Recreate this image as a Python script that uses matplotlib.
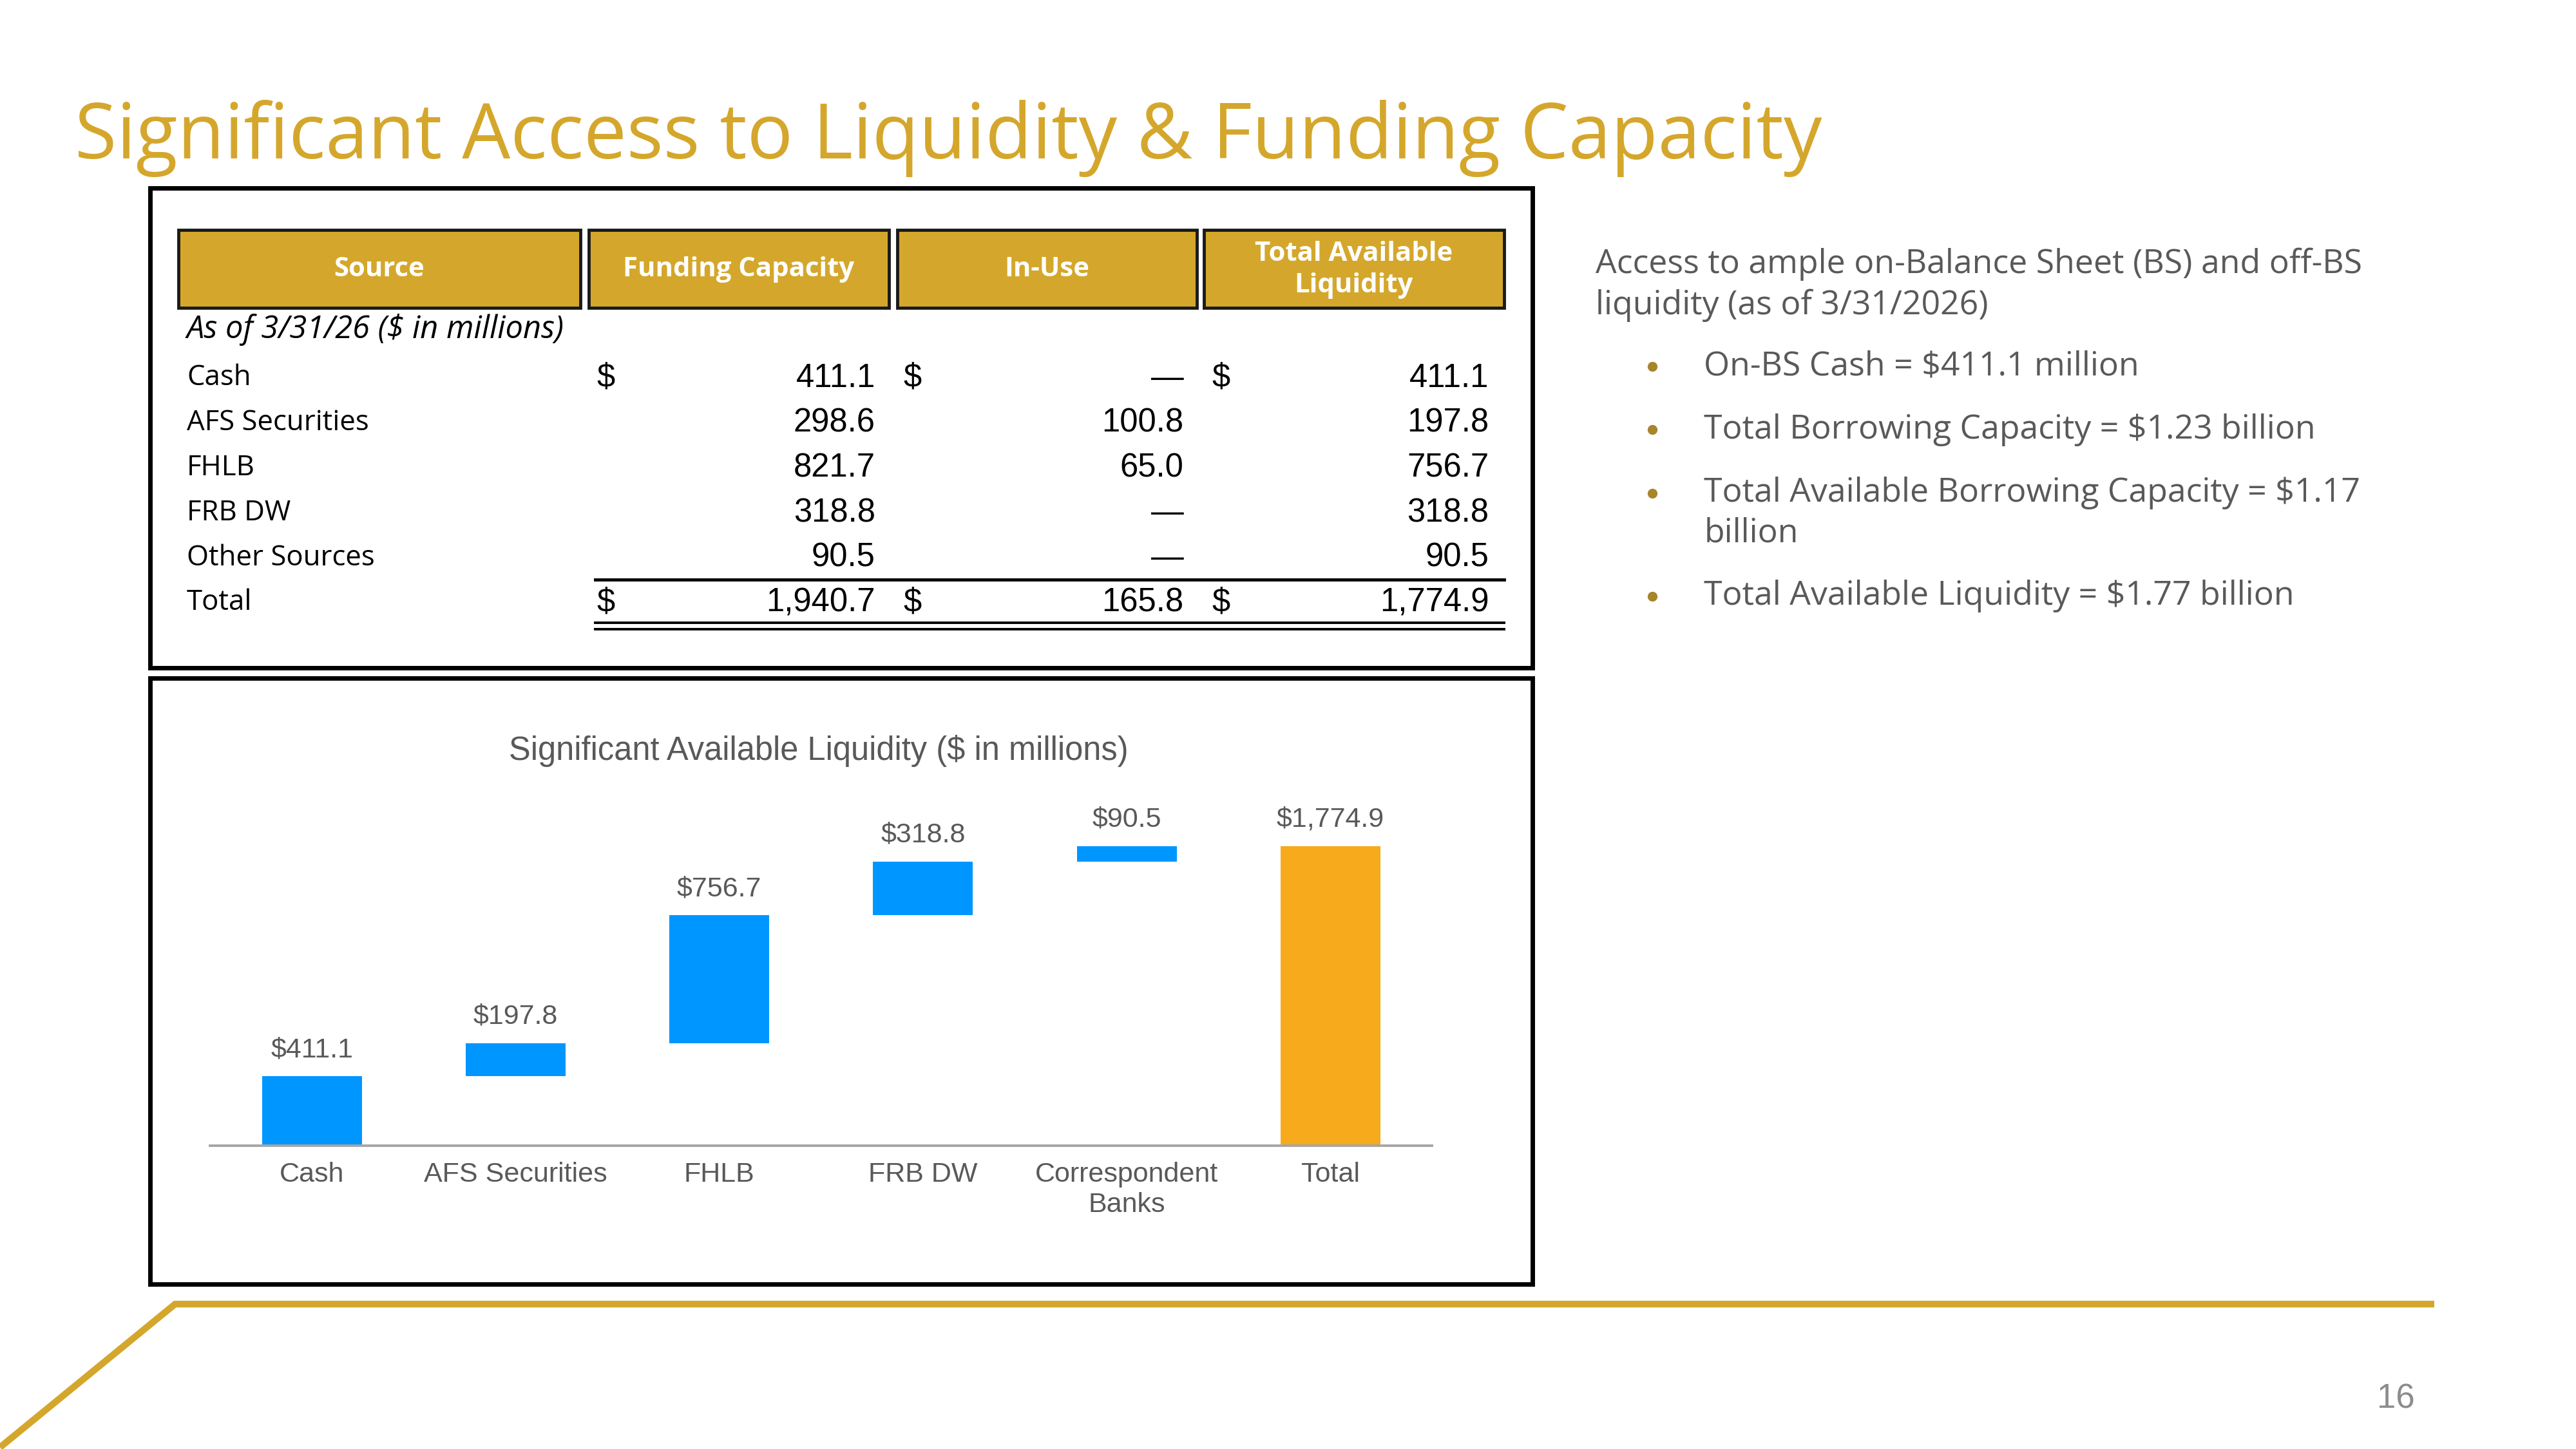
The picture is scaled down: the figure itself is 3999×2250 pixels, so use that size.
import matplotlib
matplotlib.use('Agg')
import matplotlib.pyplot as plt
from matplotlib.patches import Rectangle

# table data ($ in millions)
sources = ['Cash', 'AFS Securities', 'FHLB', 'FRB DW', 'Other Sources']
funding = [411.1, 298.6, 821.7, 318.8, 90.5]
in_use = [0.0, 100.8, 65.0, 0.0, 0.0]
available = [411.1, 197.8, 756.7, 318.8, 90.5]
totals = [1940.7, 165.8, 1774.9]
headers = ['Source', 'Funding Capacity', 'In-Use', 'Total Available\nLiquidity']

# waterfall chart
bar_cats = ['Cash', 'AFS Securities', 'FHLB', 'FRB DW', 'Correspondent\nBanks', 'Total']
bar_vals = [411.1, 197.8, 756.7, 318.8, 90.5, 1774.9]

intro = 'Access to ample on-Balance Sheet (BS) and off-BS\nliquidity (as of 3/31/2026)'
bullets = ['On-BS Cash = $411.1 million',
           'Total Borrowing Capacity = $1.23 billion',
           'Total Available Borrowing Capacity = $1.17\nbillion',
           'Total Available Liquidity = $1.77 billion']

GOLD = '#D4A72C'
BLUE = '#0096FF'
ORANGE = '#F6AA1C'
GREY = '#595959'
CAL = 'Open Sans'
ARIAL = 'Liberation Sans'

W, H = 1545, 870          # layout units
S = 3999 / W              # pixels per unit

fig = plt.figure(figsize=(39.99, 22.5), dpi=100)
ax = fig.add_axes([0, 0, 1, 1])
ax.set_xlim(0, W)
ax.set_ylim(H, 0)
ax.axis('off')
fig.canvas.draw()
rend = fig.canvas.get_renderer()


def size_for(s, width, **kw):
    # font size that makes `s` span `width` layout units
    t = ax.text(0, 0, s, fontsize=20, **kw)
    bb = t.get_window_extent(renderer=rend)
    t.remove()
    return 20 * width * S / bb.width


def money(v):
    return '\u2014' if v == 0 else f'{v:,.1f}'


# slide title
title = 'Significant Access to Liquidity & Funding Capacity'
ax.text(45, 83, title, fontsize=size_for(title, 1045, family=CAL),
        family=CAL, color=GOLD, va='center')

# ---- table panel ----
ax.add_patch(Rectangle((90, 113), 829, 288, fill=False, ec='black', lw=5))
cells = [(107, 348), (353, 533), (538, 718), (722, 902)]
for (x0, x1), h in zip(cells, headers):
    ax.add_patch(Rectangle((x0, 138), x1 - x0, 47, fc=GOLD, ec='#1a1a1a', lw=3.5))
hs = size_for('Funding Capacity', 139, family=CAL, weight='bold')
for (x0, x1), h in zip(cells, headers):
    ax.text((x0 + x1) / 2, 162, h, fontsize=hs, family=CAL, weight='bold',
            color='white', ha='center', va='center', linespacing=1.25)

asof = 'As of 3/31/26 ($ in millions)'
ax.text(112, 198, asof, fontsize=size_for(asof, 226, family=CAL, style='italic'),
        family=CAL, style='italic', color='black', va='center')

lab_fs = 31.5
num_fs = 36.5
row_y = [227, 254, 281, 308, 335]
val_x = [525, 710, 893]
dol_x = [358, 542, 727]
for i, name in enumerate(sources):
    y = row_y[i]
    ax.text(112, y, name, fontsize=lab_fs, family=CAL, va='center')
    for col, v in zip(val_x, [funding[i], in_use[i], available[i]]):
        ax.text(col, y, money(v), fontsize=num_fs, family=ARIAL, ha='right', va='center')
    if i == 0:
        for dx in dol_x:
            ax.text(dx, y, '$', fontsize=num_fs, family=ARIAL, va='center')

ax.text(112, 362, 'Total', fontsize=lab_fs, family=CAL, va='center')
for col, dx, v in zip(val_x, dol_x, totals):
    ax.text(col, 362, money(v), fontsize=num_fs, family=ARIAL, ha='right', va='center')
    ax.text(dx, 362, '$', fontsize=num_fs, family=ARIAL, va='center')
ax.plot([357, 902], [348, 348], color='black', lw=3.5)
ax.plot([357, 902], [374, 374], color='black', lw=2.8)
ax.plot([357, 902], [377.8, 377.8], color='black', lw=2.8)

# ---- chart panel ----
ax.add_patch(Rectangle((90, 407), 829, 364, fill=False, ec='black', lw=5))
ctitle = 'Significant Available Liquidity ($ in millions)'
ax.text(491, 451, ctitle, fontsize=size_for(ctitle, 372, family=ARIAL),
        family=ARIAL, color=GREY, ha='center', va='center')

left, right, base, top = 126, 859, 688, 480
cax = fig.add_axes([left / W, 1 - base / H, (right - left) / W, (base - top) / H])
cax.patch.set_alpha(0)

bottoms = []
run = 0
for v in bar_vals[:-1]:
    bottoms.append(run)
    run += v
bottoms.append(0)
colors = [BLUE] * (len(bar_vals) - 1) + [ORANGE]
xs = range(len(bar_vals))
cax.bar(xs, bar_vals, bottom=bottoms, width=0.49, color=colors)
for x, v, b in zip(xs, bar_vals, bottoms):
    cax.annotate(f'${v:,.1f}', (x, b + v), xytext=(0, 15), textcoords='offset points',
                 ha='center', va='bottom', fontsize=31, family=ARIAL, color=GREY)

cax.set_xlim(-0.5, 5.5)
cax.set_ylim(0, 1774.9 * (base - top) / 180)
cax.set_xticks(list(xs))
cax.set_xticklabels(bar_cats, fontsize=31, family=ARIAL, color=GREY, linespacing=1.2)
cax.tick_params(axis='x', length=0, pad=18)
cax.set_yticks([])
for sp in ['top', 'left', 'right']:
    cax.spines[sp].set_visible(False)
cax.spines['bottom'].set_color('#A6A6A6')
cax.spines['bottom'].set_linewidth(2.8)

# ---- right-hand notes ----
fs = size_for('Access to ample on-Balance Sheet (BS) and off-BS', 459, family=CAL)
ax.text(957, 171, intro, fontsize=fs, family=CAL, color=GREY, va='center', linespacing=1.3)
for y, b in zip([220, 258, 308, 358], bullets):
    dot_y = y if '\n' not in b else 296
    ax.plot(991, dot_y, 'o', ms=10, color='#A8852A')
    ax.text(1022, y, b, fontsize=fs, family=CAL, color=GREY, va='center', linespacing=1.3)

# footer decoration and page number
ax.plot([0, 105, 1460], [869, 783, 783], color=GOLD, lw=7.5, solid_joinstyle='miter',
        solid_capstyle='butt')
ax.text(1437, 840, '16', fontsize=38, family=ARIAL, color='#8C8C8C', ha='center', va='center')

fig.savefig('out.png', dpi=100)
